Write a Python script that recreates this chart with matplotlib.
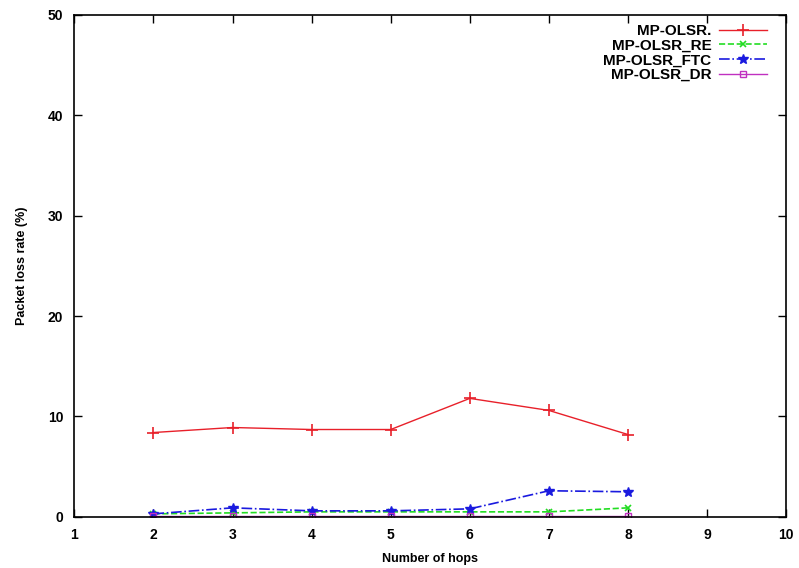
import matplotlib
matplotlib.use("Agg")
import matplotlib.pyplot as plt

plt.rcParams['font.family'] = ['Liberation Sans', 'DejaVu Sans']
plt.rcParams['font.weight'] = 'bold'

# Datos
saltos = [2, 3, 4, 5, 6, 7, 8]
mp_olsr = [8.4, 8.9, 8.7, 8.7, 11.8, 10.6, 8.2]
mp_olsr_re = [0.3, 0.4, 0.5, 0.5, 0.5, 0.5, 0.9]
mp_olsr_ftc = [0.3, 0.9, 0.6, 0.6, 0.8, 2.6, 2.5]
mp_olsr_dr = [0.05, 0.05, 0.05, 0.05, 0.05, 0.05, 0.05]

xticks = [1, 2, 3, 4, 5, 6, 7, 8, 9, 10]
yticks = [0, 10, 20, 30, 40, 50]

fig = plt.figure(figsize=(7.99, 5.68), dpi=100)
ax = fig.add_axes([0.093, 0.09, 0.891, 0.884])

ax.plot(saltos, mp_olsr, color='#e8202a', linestyle='-', linewidth=1.0,
        marker='+', markersize=8, markeredgewidth=1.2, label='MP-OLSR.')
ax.plot(saltos, mp_olsr_re, color='#22dd22', linestyle='--', linewidth=1.2,
        marker='x', markersize=5, markeredgewidth=1.2, label='MP-OLSR_RE')
ax.plot(saltos, mp_olsr_ftc, color='#1a1adf', linestyle='-.', linewidth=1.2,
        marker='*', markersize=7, label='MP-OLSR_FTC')
ax.plot(saltos, mp_olsr_dr, color='#c030c0', linestyle='-', linewidth=1.0,
        marker='s', markersize=5, markerfacecolor='none', label='MP-OLSR_DR')

ax.set_xlim(1, 10)
ax.set_ylim(0, 50)
ax.set_xticks(xticks)
ax.set_yticks(yticks)
ax.tick_params(direction='in', top=True, right=True, length=6, width=1.0,
               labelsize=10, pad=8)
for s in ax.spines.values():
    s.set_linewidth(1.2)

ax.set_xlabel('Number of hops', fontsize=9, fontweight='bold', labelpad=8)
ax.set_ylabel('Packet loss rate (%)', fontsize=9, fontweight='bold', labelpad=14)

leg = ax.legend(loc='upper right', bbox_to_anchor=(0.981, 0.994),
                borderaxespad=0, markerfirst=False, frameon=False,
                fontsize=11, handlelength=3.1, labelspacing=0.05,
                handletextpad=0.5)
for t in leg.get_texts():
    t.set_ha('right')
    t.set_fontweight('bold')

fig.savefig('out.png', dpi=100)
